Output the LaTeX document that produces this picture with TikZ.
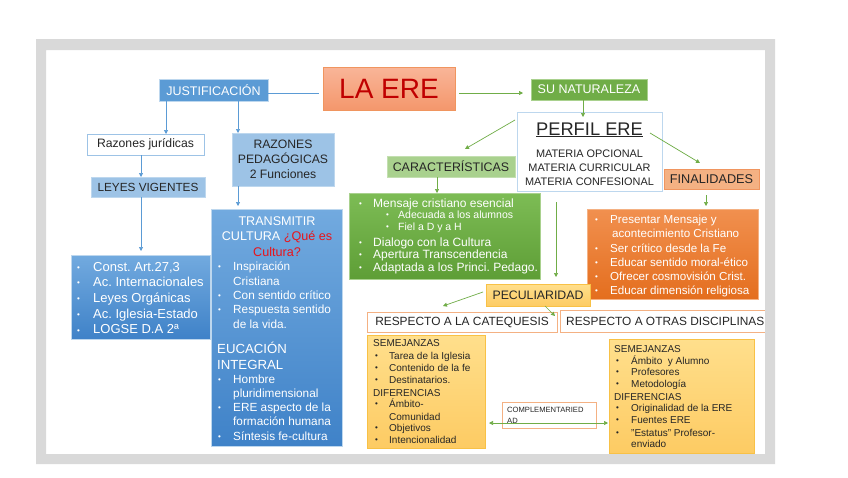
\documentclass[tikz,border=0pt]{standalone}
\usepackage{fontspec}
\setmainfont{Liberation Sans}
\usetikzlibrary{arrows.meta,fit}
\definecolor{frame}{HTML}{D9D9D9}
\definecolor{bluedk}{HTML}{5B9BD5}
\definecolor{bluetop}{HTML}{72AADF}
\definecolor{bluebot}{HTML}{3F82C8}
\definecolor{bluelt}{HTML}{9DC3E6}
\definecolor{bluebd}{HTML}{BDD7EE}
\definecolor{grn}{HTML}{70AD47}
\definecolor{grntop}{HTML}{7DBC55}
\definecolor{grnbot}{HTML}{5E9E36}
\definecolor{grnlt}{HTML}{A9D18E}
\definecolor{salm}{HTML}{F4B183}
\definecolor{salmdk}{HTML}{F0955F}
\definecolor{eretop}{HTML}{F9B598}
\definecolor{erebot}{HTML}{F4976C}
\definecolor{orntop}{HTML}{F1904F}
\definecolor{ornbot}{HTML}{E46E1E}
\definecolor{yeltop}{HTML}{FFDF8C}
\definecolor{yelbot}{HTML}{FDCB63}
\definecolor{yelbd}{HTML}{F8C146}
\definecolor{txt}{HTML}{262626}
\definecolor{ered}{HTML}{C00000}
\definecolor{qred}{HTML}{E8141B}
\newcommand\fs[1]{\fontsize{#1}{#1}\selectfont}
\newcommand\bu[1]{\makebox[#1][l]{\fs{8}\raisebox{0.8pt}{•}}}
\tikzset{
  rbox/.style={inner sep=0pt, outer sep=0pt, draw, line width=0.8pt},
  tl/.style={anchor=base west, inner sep=0pt},
  tc/.style={anchor=base, inner sep=0pt},
  lab/.style={anchor=center, inner sep=0pt},
  ga/.style={draw=grn, line width=0.7pt, -{Triangle[length=4pt,width=4pt]}},
  ba/.style={draw=bluedk, line width=0.7pt, -{Triangle[length=4pt,width=4pt]}},
}
\begin{document}
\frenchspacing
\begin{tikzpicture}[x=1pt,y=-1pt]
\useasboundingbox (0,0) rectangle (848,477);
\fill[white] (46,50) rectangle (765,454);
% ---------- top row
\node[rbox, fill=bluedk, draw=bluebd, fit={(159,79)(268,101)}] (just) {};
\node[lab, text=white, font=\fs{12.5}] (justt) at (just.center) {JUSTIFICACIÓN};
\node[rbox, top color=eretop, bottom color=erebot, draw=salmdk, fit={(323,67)(455,110)}] (ere) {};
\node[lab, text=ered, font=\fs{28}] (eret) at (ere.center) {LA ERE};
\node[rbox, fill=grn, draw=grnlt, fit={(531,79)(647,100)}] (nat) {};
\node[lab, text=white, font=\fs{12.5}] (natt) at (nat.center) {SU NATURALEZA};
\node[rbox, fill=white, draw=bluebd, fit={(517,112)(662,191)}] (perfil) {};
\node[tc, text=txt, font=\fs{18.3}] (perfilt) at (589.5,135) {\underline{PERFIL ERE}};
\node[tc, text=txt, font=\fs{10.9}] (m1) at (589.5,157) {MATERIA OPCIONAL};
\node[tc, text=txt, font=\fs{10.9}] (m2) at (589.5,171) {MATERIA CURRICULAR};
\node[tc, text=txt, font=\fs{10.9}] (m3) at (589.5,185) {MATERIA CONFESIONAL};
% ---------- left column
\node[rbox, fill=white, draw=bluelt, fit={(87,134)(204,155)}] (rj) {};
\node[lab, text=txt, font=\fs{12.2}] (rjt) at (rj.center) {Razones jurídicas};
\node[rbox, fill=bluelt, draw=bluebd, fit={(91,177)(205,197)}] (leyes) {};
\node[lab, text=txt, font=\fs{11.8}] (leyest) at (leyes.center) {LEYES VIGENTES};
\node[rbox, top color=bluetop, bottom color=bluebot, draw=bluebd, fit={(71,255)(210,339)}] (laws) {};
\node[tl, text=white, font=\fs{13}] (l1) at (77,271) {\bu{16pt}Const. Art.27,3};
\node[tl, text=white, font=\fs{13}] (l2) at (77,286.7) {\bu{16pt}Ac. Internacionales};
\node[tl, text=white, font=\fs{13}] (l3) at (77,302.4) {\bu{16pt}Leyes Orgánicas};
\node[tl, text=white, font=\fs{13}] (l4) at (77,318.1) {\bu{16pt}Ac. Iglesia-Estado};
\node[tl, text=white, font=\fs{13}] (l5) at (77,333.8) {\bu{16pt}LOGSE D.A 2ª};
\node[rbox, fill=bluelt, draw=bluebd, fit={(232,133)(334,186)}] (rp) {};
\node[tc, text=txt, font=\fs{12.2}] (rp1) at (283,148) {RAZONES};
\node[tc, text=txt, font=\fs{12.2}] (rp2) at (283,163) {PEDAGÓGICAS};
\node[tc, text=txt, font=\fs{12.2}] (rp3) at (283,178) {2 Funciones};
\node[rbox, top color=bluetop, bottom color=bluebot, draw=bluebd, fit={(211,209)(342,446)}] (big) {};
\node[tc, text=white, font=\fs{12.6}] (b1) at (277,225.5) {TRANSMITIR};
\node[tc, text=white, font=\fs{12.6}] (b2) at (277,240.5) {CULTURA \textcolor{qred}{¿Qué es}};
\node[tc, text=qred, font=\fs{12.6}] (b3) at (277,256.5) {Cultura?};
\node[tl, text=white, font=\fs{11.8}] (b4) at (218,270.5) {\bu{15pt}Inspiración};
\node[tl, text=white, font=\fs{11.8}] (b5) at (233,285.5) {Cristiana};
\node[tl, text=white, font=\fs{11.8}] (b6) at (218,299.5) {\bu{15pt}Con sentido crítico};
\node[tl, text=white, font=\fs{11.8}] (b7) at (218,313.5) {\bu{15pt}Respuesta sentido};
\node[tl, text=white, font=\fs{11.8}] (b8) at (233,328.5) {de la vida.};
\node[tl, text=white, font=\fs{13.2}] (b9) at (217,353) {EUCACIÓN};
\node[tl, text=white, font=\fs{13.2}] (b10) at (217,369) {INTEGRAL};
\node[tl, text=white, font=\fs{11.8}] (b11) at (218,383.5) {\bu{15pt}Hombre};
\node[tl, text=white, font=\fs{11.8}] (b12) at (233,397) {pluridimensional};
\node[tl, text=white, font=\fs{11.8}] (b13) at (218,411.5) {\bu{15pt}ERE aspecto de la};
\node[tl, text=white, font=\fs{11.8}] (b14) at (233,425.5) {formación humana};
\node[tl, text=white, font=\fs{11.8}] (b15) at (218,440.5) {\bu{15pt}Síntesis fe-cultura};
% ---------- green
\node[rbox, fill=grnlt, draw=grnlt!70!white, fit={(387,156)(515,177)}] (carac) {};
\node[lab, text=txt, font=\fs{12.4}] (caract) at (carac.center) {CARACTERÍSTICAS};
\node[rbox, top color=grntop, bottom color=grnbot, draw=grnlt, fit={(349,193)(540,279)}] (green) {};
\node[tl, text=white, font=\fs{12}] (g1) at (359,207) {\bu{14pt}Mensaje cristiano esencial};
\node[tl, text=white, font=\fs{10.5}] (g2) at (386,218) {\bu{12pt}Adecuada a los alumnos};
\node[tl, text=white, font=\fs{10.5}] (g3) at (386,230.5) {\bu{12pt}Fiel a D y a H};
\node[tl, text=white, font=\fs{12}] (g4) at (359,246) {\bu{14pt}Dialogo con la Cultura};
\node[tl, text=white, font=\fs{12}] (g5) at (359,258.5) {\bu{14pt}Apertura Transcendencia};
\node[tl, text=white, font=\fs{12}] (g6) at (359,271.5) {\bu{14pt}Adaptada a los Princi. Pedago.};
% ---------- orange
\node[rbox, fill=salm, draw=salmdk, fit={(664,169)(759,189)}] (fin) {};
\node[lab, text=txt, font=\fs{12.7}] (fint) at (fin.center) {FINALIDADES};
\node[rbox, top color=orntop, bottom color=ornbot, draw=salm, fit={(587,209)(758,299)}] (orange) {};
\node[tl, text=white, font=\fs{11.6}] (o1) at (595,223) {\bu{15pt}Presentar Mensaje y};
\node[tl, text=white, font=\fs{11.6}] (o2) at (612,237) {acontecimiento Cristiano};
\node[tl, text=white, font=\fs{11.6}] (o3) at (595,252) {\bu{15pt}Ser crítico desde la Fe};
\node[tl, text=white, font=\fs{11.6}] (o4) at (595,266) {\bu{15pt}Educar sentido moral-ético};
\node[tl, text=white, font=\fs{11.6}] (o5) at (595,280) {\bu{15pt}Ofrecer cosmovisión Crist.};
\node[tl, text=white, font=\fs{11.6}] (o6) at (595,294) {\bu{15pt}Educar dimensión religiosa};
% ---------- peculiaridad
\node[rbox, top color=yeltop, bottom color=yelbot, draw=yelbd, fit={(486,284)(590,306)}] (pec) {};
\node[lab, text=txt, font=\fs{12.3}] (pect) at (pec.center) {PECULIARIDAD};
\node[rbox, fill=white, draw=salm, fit={(367,312)(557,332)}] (cat) {};
\node[lab, text=txt, font=\fs{11.9}] (catt) at (cat.center) {RESPECTO A LA CATEQUESIS};
\begin{scope}
\clip (46,50) rectangle (765,454);
\node[rbox, fill=white, draw=salm, fit={(560,310)(800,332)}] (otras) {};
\node[tl, text=txt, font=\fs{11.9}] (otrast) at (566,325.5) {RESPECTO A OTRAS DISCIPLINAS};
\end{scope}
\node[rbox, top color=yeltop, bottom color=yelbot, draw=yelbd, fit={(367,335)(485,448)}] (ycat) {};
\node[tl, text=txt, font=\fs{10}] (y1) at (373,346.5) {SEMEJANZAS};
\node[tl, text=txt, font=\fs{10}] (y2) at (375,359.5) {\bu{14pt}Tarea de la Iglesia};
\node[tl, text=txt, font=\fs{10}] (y3) at (375,371.5) {\bu{14pt}Contenido de la fe};
\node[tl, text=txt, font=\fs{10}] (y4) at (375,383.5) {\bu{14pt}Destinatarios.};
\node[tl, text=txt, font=\fs{10}] (y5) at (373,396.5) {DIFERENCIAS};
\node[tl, text=txt, font=\fs{10}] (y6) at (375,407.5) {\bu{14pt}Ámbito-};
\node[tl, text=txt, font=\fs{10}] (y7) at (389,420.5) {Comunidad};
\node[tl, text=txt, font=\fs{10}] (y8) at (375,431.5) {\bu{14pt}Objetivos};
\node[tl, text=txt, font=\fs{10}] (y9) at (375,443.5) {\bu{14pt}Intencionalidad};
\node[rbox, fill=white, draw=salm, fit={(502,402)(596,428)}] (comp) {};
\node[tl, text=txt, font=\fs{7.6}] (c1) at (507,412) {COMPLEMENTARIED};
\node[tl, text=txt, font=\fs{7.6}] (c2) at (507,423) {AD};
\node[rbox, top color=yeltop, bottom color=yelbot, draw=yelbd, fit={(609,339)(754,453)}] (yotr) {};
\node[tl, text=txt, font=\fs{10}] (z1) at (614,352.5) {SEMEJANZAS};
\node[tl, text=txt, font=\fs{10}] (z2) at (616,364.5) {\bu{15pt}Ámbito \ y Alumno};
\node[tl, text=txt, font=\fs{10}] (z3) at (616,375.5) {\bu{15pt}Profesores};
\node[tl, text=txt, font=\fs{10}] (z4) at (616,387.5) {\bu{15pt}Metodología};
\node[tl, text=txt, font=\fs{10}] (z5) at (614,400.5) {DIFERENCIAS};
\node[tl, text=txt, font=\fs{10}] (z6) at (616,411.5) {\bu{15pt}Originalidad de la ERE};
\node[tl, text=txt, font=\fs{10}] (z7) at (616,423.5) {\bu{15pt}Fuentes ERE};
\node[tl, text=txt, font=\fs{10}] (z8) at (616,436.5) {\bu{15pt}"Estatus" Profesor-};
\node[tl, text=txt, font=\fs{10}] (z9) at (631,447.5) {enviado};
% ---------- connectors
\draw[draw=bluedk, line width=0.7pt, shorten >=4pt] ([yshift=-3pt]just.east) -- ([yshift=-3pt]just.east -| ere.west);
\draw[ga, shorten <=4pt, shorten >=8pt] ([yshift=-4.5pt]ere.east) -- ([yshift=-4.5pt]ere.east -| nat.west);
\draw[ga] ([xshift=-6pt]nat.south) -- ([xshift=-6pt,yshift=-5pt]nat.south |- perfil.north);
\draw[ga] ([xshift=-2pt,yshift=-8pt]perfil.north west) -- ([xshift=78pt,yshift=7pt]carac.north west);
\draw[ga] ([xshift=-12pt,yshift=-21pt]perfil.north east) -- ([xshift=-11.5pt,yshift=6pt]fin.north);
\draw[ga] ([xshift=-14pt]carac.south) -- ([xshift=-14pt]carac.south |- green.north);
\draw[ga] ([xshift=-33.5pt,yshift=-11pt]perfil.south) -- ([xshift=18pt,yshift=7pt]pec.north);
\draw[ga] ([xshift=-5.5pt,yshift=-6pt]fin.south) -- ([xshift=-5.5pt,yshift=3pt]fin.south |- orange.north);
\draw[ga] ([xshift=-3pt,yshift=3pt]pec.west) -- ([xshift=-19pt,yshift=6pt]cat.north);
\draw[ga] ([xshift=7pt]pec.south) -- ([xshift=-5pt,yshift=-6pt]otras.north west);
\draw[draw=grn, line width=0.7pt, {Triangle[length=4pt,width=4pt]}-{Triangle[length=4pt,width=4pt]}, shorten <=4pt, shorten >=1pt] ([yshift=-31.5pt]ycat.east) -- ([yshift=-31.5pt]ycat.east -| yotr.west);
\draw[ba] ([xshift=-47.5pt]just.south) -- ([xshift=-47.5pt]just.south |- rj.north);
\draw[ba] ([xshift=24.5pt]just.south) -- ([xshift=24.5pt]just.south |- rp.north);
\draw[ba] ([xshift=-4.5pt]rj.south) -- ([xshift=-4.5pt]rj.south |- leyes.north);
\draw[ba, shorten >=4pt] ([xshift=-7pt]leyes.south) -- ([xshift=-7pt]leyes.south |- laws.north);
\draw[ba, shorten >=3pt] ([xshift=-45pt]rp.south) -- ([xshift=-45pt]rp.south |- big.north);
% ---------- frame
\fill[frame, even odd rule] (36,39) rectangle (775,464) (46,50) rectangle (765,454);
\end{tikzpicture}
\end{document}
